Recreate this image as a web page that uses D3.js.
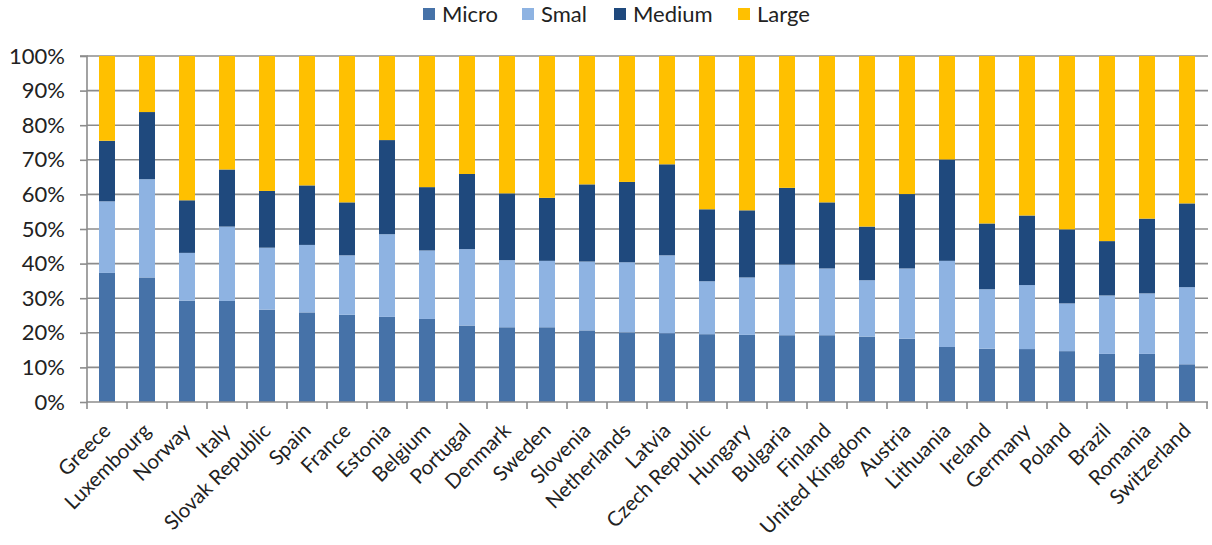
<!DOCTYPE html>
<html><head><meta charset="utf-8">
<script src="https://cdn.jsdelivr.net/npm/d3@7"></script>
<style>
html,body{margin:0;padding:0;background:#fff;}
svg{display:block;font-family:Lato,"Open Sans",sans-serif;}
</style></head>
<body><svg id="chart" width="1212" height="545"></svg>
<script>
const countries = ["Greece","Luxembourg","Norway","Italy","Slovak Republic","Spain","France","Estonia","Belgium","Portugal","Denmark","Sweden","Slovenia","Netherlands","Latvia","Czech Republic","Hungary","Bulgaria","Finland","United Kingdom","Austria","Lithuania","Ireland","Germany","Poland","Brazil","Romania","Switzerland"];
const seriesNames = ["Micro","Smal","Medium","Large"];
const micro  = [37.3,36.0,29.3,29.2,26.7,25.9,25.2,24.6,24.0,22.1,21.6,21.6,20.7,20.1,19.9,19.6,19.4,19.3,19.3,18.9,18.3,15.9,15.4,15.3,14.7,13.9,13.9,10.9];
const small  = [20.7,28.4,13.8,21.5,17.9,19.5,17.2,23.9,19.8,22.1,19.4,19.2,19.9,20.3,22.5,15.3,16.6,20.4,19.3,16.3,20.3,24.9,17.2,18.5,13.8,16.9,17.5,22.3];
const medium = [17.5,19.4,15.2,16.5,16.4,17.2,15.3,27.2,18.3,21.7,19.3,18.2,22.3,23.2,26.3,20.8,19.4,22.2,19.1,15.5,21.5,29.3,19.0,20.1,21.4,15.7,21.6,24.2];
const large  = [24.5,16.2,41.7,32.8,39.0,37.4,42.3,24.3,37.9,34.1,39.7,41.0,37.1,36.4,31.3,44.3,44.6,38.1,42.3,49.3,39.9,29.9,48.4,46.1,50.1,53.5,47.0,42.6];
const yTicks = [0,10,20,30,40,50,60,70,80,90,100];
const colors = ["#4672A8","#8EB3E2","#1F497D","#FFC000"];

const rows = countries.map((c,i)=>({country:c, Micro:micro[i], Smal:small[i], Medium:medium[i], Large:large[i]}));
const stack = d3.stack().keys(seriesNames).offset(d3.stackOffsetExpand)(rows);

const svg = d3.select("#chart");
const m = {left:87, right:1207, top:56, bottom:402};
const x = d3.scaleBand().domain(countries).range([m.left, m.right]).paddingInner(0.6).paddingOuter(0.3);
const y = d3.scaleLinear().domain([0,1]).range([m.bottom, m.top]);

// gridlines
svg.append("g").selectAll("line").data(yTicks.slice(1)).join("line")
  .attr("x1", m.left).attr("x2", m.right+1)
  .attr("y1", d=>y(d/100)).attr("y2", d=>y(d/100))
  .attr("stroke","#8c8c8c").attr("stroke-width",1.6);

// bars
svg.append("g").selectAll("g").data(stack).join("g")
  .attr("fill",(d,i)=>colors[i])
  .selectAll("rect").data(d=>d).join("rect")
  .attr("x", d=>x(d.data.country))
  .attr("width", x.bandwidth())
  .attr("y", d=>y(d[1]))
  .attr("height", d=>y(d[0])-y(d[1]));

// y axis
const yAxis = d3.axisLeft(y).tickValues(yTicks.map(v=>v/100)).tickFormat(d=>Math.round(d*100)+"%").tickSize(7).tickPadding(15);
const gy = svg.append("g").attr("transform",`translate(${m.left},0)`).call(yAxis);
gy.select(".domain").attr("stroke","#8c8c8c").attr("stroke-width",1.6).attr("d",`M-7,${m.top}H0V${m.bottom}`);
gy.selectAll(".tick line").attr("stroke","#8c8c8c").attr("stroke-width",1.6);
gy.selectAll(".tick text").attr("font-size","22px").attr("fill","#222").attr("font-family","Lato");

// x axis
const xb = d3.scaleLinear().domain([0,countries.length]).range([m.left,m.right]);
const gx = svg.append("g").attr("transform",`translate(0,${m.bottom})`);
gx.append("line").attr("x1",m.left).attr("x2",m.right+1).attr("stroke","#8c8c8c").attr("stroke-width",1.6);
gx.selectAll("line.t").data(d3.range(countries.length+1)).join("line").attr("class","t")
  .attr("x1",d=>xb(d)).attr("x2",d=>xb(d)).attr("y1",0).attr("y2",7)
  .attr("stroke","#8c8c8c").attr("stroke-width",1.6);
gx.selectAll("text").data(countries).join("text")
  .attr("transform", d=>`translate(${x(d)+x.bandwidth()/2+5},${30}) rotate(-45)`)
  .attr("text-anchor","end")
  .attr("font-size","20.5px").attr("fill","#222")
  .text(d=>d);

// legend
const legX = [423,522,614,738];
const lg = svg.append("g").selectAll("g").data(seriesNames).join("g")
  .attr("transform",(d,i)=>`translate(${legX[i]},8)`);
lg.append("rect").attr("width",12).attr("height",12).attr("fill",(d,i)=>colors[i]);
lg.append("text").attr("x",19).attr("y",6).attr("dy","0.36em").attr("font-size","22px").attr("fill","#222").text(d=>d);
</script></body></html>
